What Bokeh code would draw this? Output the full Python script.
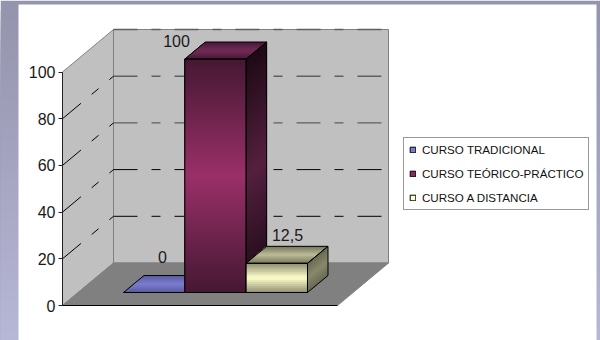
from bokeh.plotting import figure
from bokeh.models import LinearAxis, FixedTicker, Legend, LegendItem, Range1d
from bokeh.core.properties import value
from bokeh.embed import file_html
from bokeh.resources import INLINE

# Chart data
categories = ["CURSO TRADICIONAL", "CURSO TEÓRICO-PRÁCTICO", "CURSO A DISTANCIA"]
values = [0, 100, 12.5]
value_labels = ["0", "100", "12,5"]
axis_ticks = [0, 20, 40, 60, 80, 100]

FONT = "Liberation Sans"
W, H = 600, 340
UNIT = 2.335           # pixels per percentage point
AXIS_X, AXIS_Y = 62, 305
DEPTH_X, DEPTH_Y = 51, 42.5
BACK_RIGHT = 388
FLOOR_FRONT_RIGHT = 337
BAR_LEFT, BAR_W = 123, 61.33
BAR_BASE = 292
BAR_DX, BAR_DY = 20.5, 17


def vy(py):
    """Convert a pixel row into the value units of the y scale."""
    return (AXIS_Y - py) / UNIT


def hex_mix(a, b, t):
    ca = [int(a[i:i + 2], 16) for i in (1, 3, 5)]
    cb = [int(b[i:i + 2], 16) for i in (1, 3, 5)]
    return "#%02x%02x%02x" % tuple(round(x + (y - x) * t) for x, y in zip(ca, cb))


def bands(edge, mid, t):
    """Edge-to-centre-to-edge shading."""
    return hex_mix(edge, mid, 1 - abs(2 * t - 1))


p = figure(width=W, height=H, x_range=Range1d(0, W), y_range=Range1d(vy(H), vy(0)),
           output_backend="svg", toolbar_location=None, min_border=0,
           x_axis_location=None, y_axis_location=None, outline_line_color=None,
           background_fill_color="white", border_fill_color="white")
p.grid.visible = False

# Page backdrop with a vertical blue-grey ramp and the white sheet on top
STEPS = 34
p.quad(left=[0] * STEPS, right=[W] * STEPS,
       top=[vy(H * i / STEPS) for i in range(STEPS)],
       bottom=[vy(H)] * STEPS,
       fill_color=[hex_mix("#9494ac", "#b6b6d6", i / (STEPS - 1)) for i in range(STEPS)],
       line_color=None)
p.quad(left=[18], right=[596], top=[vy(4)], bottom=[vy(H)], fill_color="white", line_color=None)

# Walls and floor of the 3D box
back_x = AXIS_X + DEPTH_X
back_y0 = AXIS_Y - DEPTH_Y
back_top = back_y0 - 100 * UNIT
front_top = AXIS_Y - 100 * UNIT
p.patch([AXIS_X, back_x, back_x, AXIS_X], [vy(AXIS_Y), vy(back_y0), vy(back_top), vy(front_top)],
        fill_color="#c0c0c0", line_color="#808080", line_width=1)
p.patch([back_x, BACK_RIGHT, BACK_RIGHT, back_x], [vy(back_y0), vy(back_y0), vy(back_top), vy(back_top)],
        fill_color="#c0c0c0", line_color="#808080", line_width=1)
p.patch([AXIS_X, FLOOR_FRONT_RIGHT, BACK_RIGHT, back_x], [vy(AXIS_Y), vy(AXIS_Y), vy(back_y0), vy(back_y0)],
        fill_color="#808080", line_color="#808080", line_width=1)

# Dashed gridlines along both walls
DASH = "24 14 9 14"
for t in axis_ticks[1:]:
    col = "#606060" if t >= 60 else "#000000"
    wid = 1.4 if t >= 60 else 1
    yb = back_y0 - t * UNIT
    p.line([back_x, BACK_RIGHT], [vy(yb), vy(yb)], line_color=col, line_width=wid, line_dash=DASH)
    if t < 100:
        yf = AXIS_Y - t * UNIT
        p.line([AXIS_X, back_x], [vy(yf), vy(yb)], line_color="#000000", line_width=1, line_dash=DASH)

# Per-bar shading: (front edge, front centre, top edge, top centre, side edge, side centre)
shades = [
    ("#5a5a9c", "#7c7cd0", "#5a5a9c", "#7c7cd0", "#40406e", "#5a5a98"),
    ("#451832", "#9a3068", "#471a38", "#742a55", "#1e0a16", "#55203f"),
    ("#8e8e70", "#ffffcc", "#74745a", "#bdbd98", "#6a6a54", "#88886c"),
]
swatches = ["#7c7cd0", "#8a2a5e", "#ffffcc"]
legend_items = []
for i, v in enumerate(values):
    x0 = BAR_LEFT + i * BAR_W
    x1 = x0 + BAR_W
    y0 = BAR_BASE
    y1 = BAR_BASE - v * UNIT
    fe, fc, te, tc, se, sc = shades[i]

    # The bar itself; its shaded faces are painted over it and it keys the legend
    bar = p.quad(left=[x0], right=[x1], top=[vy(y1)], bottom=[vy(y0)],
                 fill_color=swatches[i], line_color="#000000", line_width=1)
    legend_items.append(LegendItem(label=categories[i], renderers=[bar]))

    xs, ys, cols = [], [], []
    n = max(2, int((y0 - y1) / 2))
    if v > 0:
        # each slice runs down to the bar base so that later slices overpaint without seams
        for k in range(n):
            ya = y1 + (y0 - y1) * k / n
            t = (k + 0.5) / n
            xs.append([x0, x1, x1, x0])
            ys.append([vy(ya), vy(ya), vy(y0), vy(y0)])
            cols.append(bands(fe, fc, t))
            xs.append([x1, x1 + BAR_DX, x1 + BAR_DX, x1])
            ys.append([vy(ya), vy(ya - BAR_DY), vy(y0 - BAR_DY), vy(y0)])
            cols.append(bands(se, sc, t))
    # top face, sliced from front to back
    T = 14
    ytop = y1 - BAR_DY
    for k in range(T):
        a = k / T
        xs.append([x0 + BAR_DX * a, x1 + BAR_DX * a, x1 + BAR_DX, x0 + BAR_DX])
        ys.append([vy(y1 - BAR_DY * a), vy(y1 - BAR_DY * a), vy(ytop), vy(ytop)])
        cols.append(bands(te, tc, (k + 0.5) / T))
    p.patches(xs, ys, fill_color=cols, line_color=None)

    # Bar edges
    if v > 0:
        p.patch([x0, x1, x1, x0], [vy(y0), vy(y0), vy(y1), vy(y1)], fill_color=None, line_color="#000000", line_width=1)
        p.patch([x1, x1 + BAR_DX, x1 + BAR_DX, x1], [vy(y0), vy(y0 - BAR_DY), vy(y1 - BAR_DY), vy(y1)],
                fill_color=None, line_color="#000000", line_width=1)
    p.patch([x0, x1, x1 + BAR_DX, x0 + BAR_DX], [vy(y1), vy(y1), vy(y1 - BAR_DY), vy(y1 - BAR_DY)],
            fill_color=None, line_color="#000000", line_width=1)

# Value labels above the bars
label_x = [162, 176, 287]
label_off = [-36, -18, -28]
base_val = vy(BAR_BASE)
p.text(x=label_x, y=[base_val + v for v in values], text=value_labels,
       y_offset=label_off, text_font=value(FONT), text_font_size="16px",
       text_color="#1a1a1a", text_align="center", text_baseline="middle")

# Base line of the floor
p.line([AXIS_X, FLOOR_FRONT_RIGHT], [0, 0], line_color="#000000", line_width=1.2)

# Value axis placed at the front corner of the box
axis = LinearAxis(fixed_location=AXIS_X, bounds=(0, 100), ticker=FixedTicker(ticks=axis_ticks),
                  axis_line_color="#222222", major_tick_line_color="#222222",
                  major_tick_in=0, major_tick_out=4, minor_tick_line_color=None,
                  major_label_text_font=FONT, major_label_text_font_size="16px",
                  major_label_text_color="#1a1a1a", major_label_standoff=3)
p.add_layout(axis, "left")

# Legend
legend = Legend(items=legend_items, location=(403, 130), orientation="vertical",
                glyph_width=7, glyph_height=7, label_standoff=6, label_height=13,
                spacing=11, padding=5, margin=0, background_fill_color="white", background_fill_alpha=1,
                border_line_color="#333333", border_line_width=1,
                label_text_font=FONT, label_text_font_size="11.6px", label_text_color="#111111")
p.add_layout(legend, "center")

open("out.html", "w").write(file_html(p, INLINE))
